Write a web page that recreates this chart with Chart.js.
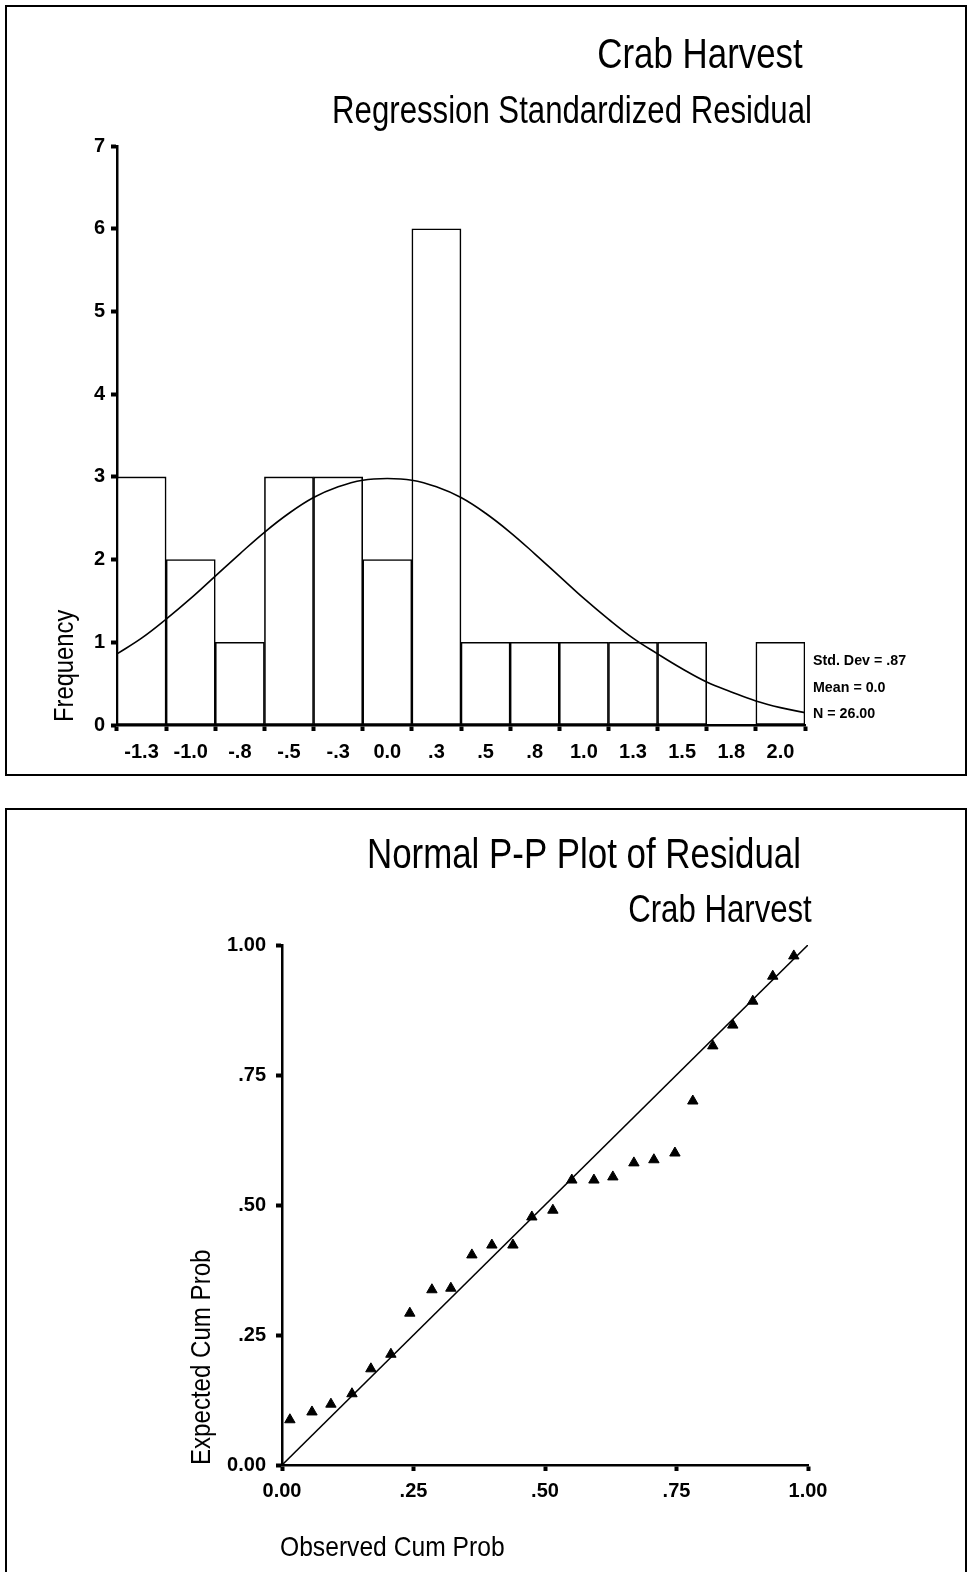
<!DOCTYPE html>
<html>
<head>
<meta charset="utf-8">
<script src="https://cdn.jsdelivr.net/npm/chart.js@4.4.1/dist/chart.umd.min.js"></script>
<style>
  body { margin: 0; background: #fff; width: 967px; height: 1572px; overflow: hidden; position: relative; }
  .panel { position: absolute; left: 5px; width: 958px; border: 2px solid #000; background: #fff; }
  #panel1 { top: 5px; height: 767px; }
  #panel2 { top: 808px; height: 780px; border-bottom: none; }
  canvas { display: block; }
</style>
</head>
<body>
<div class="panel" id="panel1"><canvas id="histChart" width="958" height="767"></canvas></div>
<div class="panel" id="panel2"><canvas id="ppChart" width="958" height="762"></canvas></div>
<script>
// histogram bins (bin centres) and counts
const binCenters = [-1.25, -1.0, -0.75, -0.5, -0.25, 0, 0.25, 0.5, 0.75, 1.0, 1.25, 1.5, 1.75, 2.0];
const binLabels = ['-1.3', '-1.0', '-.8', '-.5', '-.3', '0.0', '.3', '.5', '.8', '1.0', '1.3', '1.5', '1.8', '2.0'];
const frequencies = [3, 2, 1, 3, 3, 2, 6, 1, 1, 1, 1, 1, 0, 1];

// normal curve
const curveX = [-1.375, -1.25, -1.125, -1.0, -0.875, -0.75, -0.625, -0.5, -0.375, -0.25, -0.125, 0,
  0.125, 0.25, 0.375, 0.5, 0.625, 0.75, 0.875, 1.0, 1.125, 1.25, 1.375, 1.5, 1.625, 1.75, 1.875, 2.0, 2.125];
const curveY = [0.86, 1.05, 1.28, 1.53, 1.80, 2.07, 2.33, 2.56, 2.75, 2.88, 2.96, 2.98,
  2.96, 2.88, 2.75, 2.56, 2.33, 2.07, 1.80, 1.53, 1.28, 1.05, 0.86, 0.68, 0.52, 0.40, 0.29, 0.21, 0.15];

const freqTicks = [0, 1, 2, 3, 4, 5, 6, 7];
const statsLines = ['Std. Dev = .87', 'Mean = 0.0', 'N = 26.00'];

// P-P plot
const observedCumProb = [0.015, 0.057, 0.093, 0.133, 0.169, 0.207, 0.243, 0.285, 0.321, 0.361, 0.399, 0.439, 0.475,
  0.515, 0.551, 0.593, 0.629, 0.669, 0.707, 0.747, 0.781, 0.819, 0.857, 0.895, 0.933, 0.973];
const expectedCumProb = [0.087, 0.102, 0.117, 0.137, 0.185, 0.213, 0.292, 0.337, 0.340, 0.404, 0.423, 0.423, 0.477,
  0.490, 0.548, 0.548, 0.554, 0.581, 0.587, 0.600, 0.700, 0.806, 0.846, 0.892, 0.940, 0.979];
const diagX = [0, 1];
const diagY = [0, 1];
const probTicks = [0, 0.25, 0.5, 0.75, 1];
const probLabels = ['0.00', '.25', '.50', '.75', '1.00'];

const FONT = "'Liberation Sans', Arial, sans-serif";

// titles, axis titles and notes; sx squeezes the text a bit (narrow face in the original)
function textPlugin(items) {
  return {
    id: 'texts',
    afterDraw(chart) {
      const ctx = chart.ctx;
      items.forEach(t => {
        ctx.save();
        ctx.fillStyle = '#000';
        ctx.textBaseline = 'middle';
        ctx.font = (t.weight || 'normal') + ' ' + t.size + 'px ' + FONT;
        ctx.textAlign = t.align || 'center';
        ctx.translate(t.x, t.y);
        if (t.rot) ctx.rotate(-Math.PI / 2);
        ctx.scale(t.sx || 1, 1);
        ctx.fillText(t.text, 0, 0);
        ctx.restore();
      });
    }
  };
}

const axisBorder = { display: true, color: '#000', width: 2.5 };
const tickGrid = { display: true, drawOnChartArea: false, drawTicks: true, tickLength: 6, tickWidth: 4, tickColor: '#000' };

// ---------- histogram ----------
new Chart(document.getElementById('histChart'), {
  type: 'bar',
  data: {
    datasets: [{
      type: 'line',
      data: curveX.map((x, i) => ({ x: x, y: curveY[i] })),
      borderColor: '#000',
      borderWidth: 1.6,
      pointRadius: 0,
      tension: 0.4,
      fill: false,
      order: 0
    }, {
      type: 'bar',
      data: binCenters.map((x, i) => ({ x: x, y: frequencies[i] })),
      backgroundColor: '#fff',
      borderColor: '#000',
      borderWidth: 1.6,
      borderSkipped: false,
      barPercentage: 1,
      categoryPercentage: 1,
      order: 1
    }]
  },
  options: {
    responsive: false,
    animation: false,
    layout: { padding: { top: 139, right: 160, left: 0, bottom: 0 } },
    plugins: { legend: { display: false }, tooltip: { enabled: false } },
    scales: {
      x: {
        type: 'linear',
        min: -1.375,
        max: 2.125,
        offset: false,
        afterBuildTicks: s => { s.ticks = binCenters.map(v => ({ value: v })); },
        afterFit: s => { s.height = 49; },
        ticks: {
          autoSkip: false,
          maxRotation: 0,
          padding: 9,
          color: '#000',
          font: { family: FONT, size: 20, weight: 'bold' },
          callback: (v, i) => binLabels[i]
        },
        grid: tickGrid,
        border: axisBorder
      },
      y: {
        min: 0,
        max: 7,
        afterBuildTicks: s => { s.ticks = freqTicks.map(v => ({ value: v })); },
        afterFit: s => { s.width = 110; },
        ticks: { color: '#000', padding: 6, font: { family: FONT, size: 20, weight: 'bold' } },
        grid: tickGrid,
        border: axisBorder
      }
    }
  },
  plugins: [textPlugin([
    { text: 'Crab Harvest', x: 693, y: 49, size: 42, sx: 0.83 },
    { text: 'Regression Standardized Residual', x: 565, y: 106, size: 38, sx: 0.82 },
    { text: 'Frequency', x: 59, y: 715, size: 27, sx: 0.88, rot: true, align: 'left' },
    { text: statsLines[0], x: 806, y: 654, size: 15, weight: 'bold', align: 'left', sx: 0.95 },
    { text: statsLines[1], x: 806, y: 681, size: 15, weight: 'bold', align: 'left', sx: 0.95 },
    { text: statsLines[2], x: 806, y: 707, size: 15, weight: 'bold', align: 'left', sx: 0.95 }
  ])]
});

// ---------- normal P-P plot ----------
new Chart(document.getElementById('ppChart'), {
  type: 'scatter',
  data: {
    datasets: [{
      data: observedCumProb.map((x, i) => ({ x: x, y: expectedCumProb[i] })),
      pointStyle: 'triangle',
      pointRadius: 6,
      backgroundColor: '#000',
      borderColor: '#000',
      borderWidth: 1,
      showLine: false
    }, {
      type: 'line',
      data: diagX.map((x, i) => ({ x: x, y: diagY[i] })),
      borderColor: '#000',
      borderWidth: 1.6,
      pointRadius: 0,
      fill: false
    }]
  },
  options: {
    responsive: false,
    animation: false,
    layout: { padding: { top: 135, right: 157, left: 0, bottom: 0 } },
    plugins: { legend: { display: false }, tooltip: { enabled: false } },
    scales: {
      x: {
        type: 'linear',
        min: 0,
        max: 1,
        afterBuildTicks: s => { s.ticks = probTicks.map(v => ({ value: v })); },
        afterFit: s => { s.height = 107; },
        ticks: {
          autoSkip: false,
          maxRotation: 0,
          padding: 8,
          color: '#000',
          font: { family: FONT, size: 20, weight: 'bold' },
          callback: (v, i) => probLabels[i]
        },
        grid: tickGrid,
        border: axisBorder
      },
      y: {
        min: 0,
        max: 1,
        afterBuildTicks: s => { s.ticks = probTicks.map(v => ({ value: v })); },
        afterFit: s => { s.width = 275; },
        ticks: {
          color: '#000',
          padding: 10,
          font: { family: FONT, size: 20, weight: 'bold' },
          callback: (v, i) => probLabels[i]
        },
        grid: tickGrid,
        border: axisBorder
      }
    }
  },
  plugins: [textPlugin([
    { text: 'Normal P-P Plot of Residual', x: 577, y: 46, size: 42, sx: 0.83 },
    { text: 'Crab Harvest', x: 713, y: 102, size: 38, sx: 0.82 },
    { text: 'Expected Cum Prob', x: 195, y: 655, size: 28, sx: 0.86, rot: true, align: 'left' },
    { text: 'Observed Cum Prob', x: 273, y: 738, size: 28, sx: 0.88, align: 'left' }
  ])]
});
</script>
</body>
</html>
